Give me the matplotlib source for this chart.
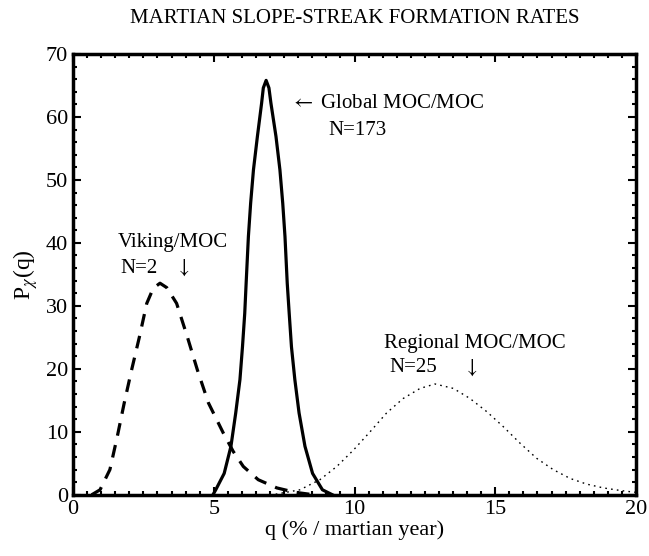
import numpy as np
import matplotlib
matplotlib.use('Agg')
import matplotlib.pyplot as plt
from matplotlib.ticker import MultipleLocator

plt.rcParams['font.family'] = ['Liberation Serif', 'DejaVu Serif']
plt.rcParams['mathtext.fontset'] = 'stix'

# values
q_global = [4.97, 5.07, 5.37, 5.61, 5.78, 5.93, 6.02, 6.10, 6.15, 6.23, 6.31, 6.41, 6.55, 6.70,
            6.76, 6.86, 6.96, 7.03, 7.21, 7.35, 7.45, 7.53, 7.61, 7.68, 7.76, 7.88, 8.03,
            8.24, 8.51, 8.86, 9.22]
p_global = [0.0, 0.8, 3.4, 7.7, 13.0, 18.3, 23.5, 28.8, 33.6, 41.0, 46.3, 51.6, 56.9, 62.2,
            64.6, 65.8, 64.6, 62.2, 56.9, 51.6, 46.3, 41.0, 33.6, 28.8, 23.5, 18.3, 13.0,
            7.7, 3.4, 0.8, 0.0]

q_viking = [0.66, 0.96, 1.31, 1.57, 1.82, 2.08, 2.36, 2.62, 2.85, 3.09, 3.33, 3.68, 4.06,
            4.42, 4.81, 5.34, 5.69, 6.05, 6.58, 7.24, 7.89, 8.40]
p_viking = [0.0, 0.8, 4.0, 9.2, 14.6, 19.8, 25.1, 30.4, 32.8, 33.6, 32.9, 30.4, 25.1,
            19.8, 14.6, 9.8, 6.9, 4.5, 2.4, 1.1, 0.4, 0.1]

q_regional = [7.20, 8.06, 8.77, 9.37, 9.96, 10.55, 11.14, 11.73, 12.33, 12.86, 13.51,
              14.10, 14.70, 15.29, 15.88, 16.47, 17.06, 17.66, 18.25, 18.84, 19.43, 19.79, 20.0]
p_regional = [0.1, 0.8, 2.4, 4.5, 7.1, 10.0, 13.0, 15.3, 16.9, 17.6, 16.9,
              15.3, 13.2, 10.8, 8.2, 5.8, 4.0, 2.6, 1.7, 1.1, 0.7, 0.5, 0.4]

fig = plt.figure(figsize=(6.49, 5.56), dpi=100)
ax = fig.add_axes([0.1125, 0.11, 0.8675, 0.793])

ax.plot(q_global, p_global, color='black', lw=2.3, solid_joinstyle='round')
ax.plot(q_viking, p_viking, color='black', lw=2.3, linestyle=(0, (4, 3)))
ax.plot(q_regional, p_regional, color='black', lw=1.0, linestyle=(0, (1.2, 3)))

ax.set_xlim(0, 20)
ax.set_ylim(0, 70)
ax.xaxis.set_major_locator(MultipleLocator(5))
ax.xaxis.set_minor_locator(MultipleLocator(0.5))
ax.yaxis.set_major_locator(MultipleLocator(10))
ax.yaxis.set_minor_locator(MultipleLocator(2))
ax.tick_params(which='both', direction='in', top=True, right=True, labelsize=16, width=1.5)
ax.tick_params(which='major', length=6)
ax.tick_params(which='minor', length=3)
for s in ax.spines.values():
    s.set_linewidth(2.5)

ax.set_xlabel('q (% / martian year)', fontsize=16, labelpad=1)
ax.set_ylabel(r'P$_\chi$(q)', fontsize=17, labelpad=4)
ax.set_title('MARTIAN SLOPE-STREAK FORMATION RATES', fontsize=15, pad=22)

ax.text(7.71, 62.2, r'$\leftarrow$ Global MOC/MOC', fontsize=15, va='center')
ax.text(9.06, 57.9, 'N=173', fontsize=15, va='center')
ax.text(1.6, 40.0, 'Viking/MOC', fontsize=15, va='center')
ax.text(1.67, 36.0, 'N=2', fontsize=15, va='center')
ax.text(3.87, 36.0, r'$\downarrow$', fontsize=15, va='center', ha='center')
ax.text(11.05, 24.0, 'Regional MOC/MOC', fontsize=15, va='center')
ax.text(11.23, 20.2, 'N=25', fontsize=15, va='center')
ax.text(14.1, 20.2, r'$\downarrow$', fontsize=15, va='center', ha='center')

fig.savefig('out.png', dpi=100)
